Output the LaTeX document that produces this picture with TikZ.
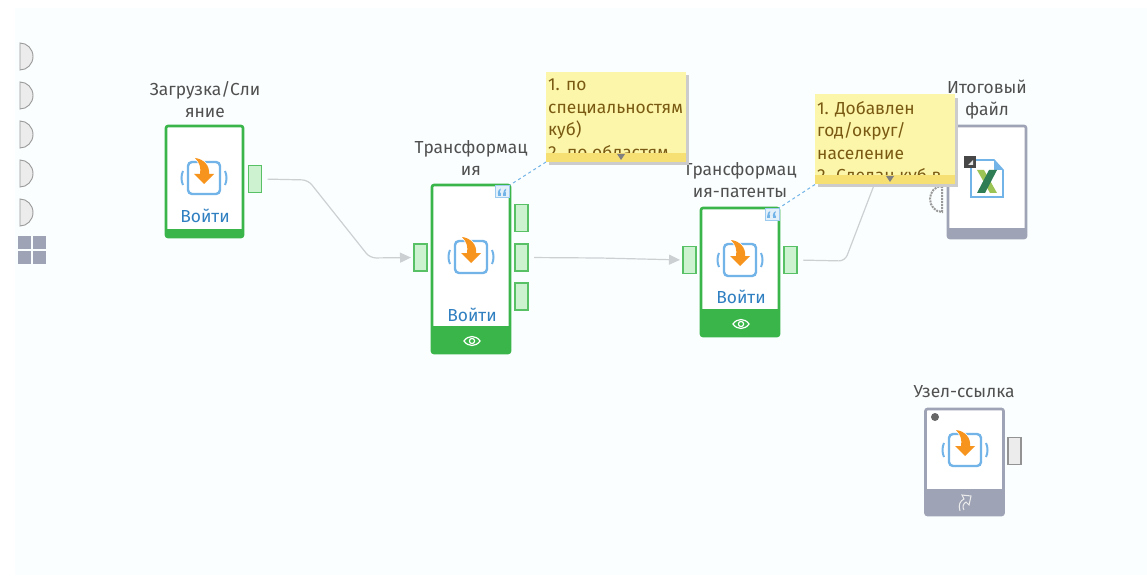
\documentclass[tikz,border=0pt]{standalone}
\usepackage{xcolor}
\usepackage{fontspec}
\setmainfont{Fira Sans}
\usepackage{tikz}
\usetikzlibrary{arrows.meta}

\definecolor{cardgreen}{HTML}{3AB54A}
\definecolor{portfill}{HTML}{CCF2CF}
\definecolor{cardgray}{HTML}{9EA3B5}
\definecolor{wiregray}{HTML}{CDD0D3}
\definecolor{iconblue}{HTML}{72B4E8}
\definecolor{iconorange}{HTML}{F7941D}
\definecolor{linkblue}{HTML}{2F7FC1}
\definecolor{labelgray}{HTML}{505050}
\definecolor{notefill}{HTML}{FCF6AA}
\definecolor{notebar}{HTML}{F6E074}
\definecolor{notetext}{HTML}{7A5A12}
\definecolor{canvasfill}{HTML}{FAFEFE}
\definecolor{xldark}{HTML}{2F7D55}
\definecolor{xllight}{HTML}{9CC455}

\tikzset{
  card/.style={draw=cardgreen, fill=white, rounded corners=2pt, line width=2.6pt, outer sep=0pt, inner sep=0pt},
  graycard/.style={card, draw=cardgray},
  port/.style={draw=cardgreen!85, fill=portfill, line width=1.2pt, minimum width=13pt, minimum height=27pt, outer sep=0pt, inner sep=0pt},
  grayport/.style={port, draw=gray!85, fill=gray!15},
  wire/.style={draw=wiregray, line width=1.2pt, rounded corners=6pt, shorten <=6pt},
  arrowwire/.style={wire, -{Triangle[length=11pt,width=10pt]}, shorten >=3pt},
  title/.style={text=labelgray, font=\fontsize{17.4}{22}\selectfont, align=center, inner sep=0pt},
  enter/.style={text=linkblue, font=\fontsize{17.4}{20}\selectfont, inner sep=0pt},
  note/.style={fill=notefill, minimum width=140pt, minimum height=90pt, outer sep=0pt, inner sep=0pt},
  notelines/.style={text=notetext, font=\fontsize{17.4}{22.5}\selectfont, align=left, inner sep=0pt, anchor=north west},
  notelink/.style={draw=iconblue, line width=1pt, dashed},
  quotebadge/.style={draw=iconblue!70, fill=iconblue!20, line width=1pt, minimum width=14pt, minimum height=12pt, inner sep=0pt},
  pics/quoteicon/.style={code={
    \foreach \qq in {-3,2.5} {
      \fill[iconblue] (\qq-1.8,1.5) rectangle (\qq+1.2,4);
      \fill[iconblue] (\qq-1.8,1.5) .. controls (\qq-1.8,-1) and (\qq-0.5,-3) .. (\qq+1.2,-3.5) -- (\qq+1.2,-2) .. controls (\qq,-1.5) and (\qq-0.2,0) .. (\qq+1.2,1.5) -- cycle;
    }
  }},
  pics/transicon/.style={code={
    \draw[iconblue, line width=2.4pt, rounded corners=4pt] (-16,-16) rectangle (16,16);
    \draw[iconblue, line width=2pt] (-21,-7) .. controls (-23,-3) and (-23,3) .. (-21,7);
    \draw[iconblue, line width=2pt] (21,-7) .. controls (23,-3) and (23,3) .. (21,7);
    \fill[iconorange, draw=white, line width=1.5pt] (-9,-20) .. controls (0,-19) and (6,-12) .. (5,-4) -- (10,-4) -- (0,6) -- (-10,-4) -- (-4,-4) .. controls (-3,-10) and (-4,-15) .. cycle;
    \fill[iconorange] (-9,-20) .. controls (0,-19) and (6,-12) .. (5,-4) -- (10,-4) -- (0,6) -- (-10,-4) -- (-4,-4) .. controls (-3,-10) and (-4,-15) .. cycle;
  }},
  pics/eyeicon/.style={code={
    \draw[white, line width=1.2pt] (-8,0) .. controls (-4,-6) and (4,-6) .. (8,0) .. controls (4,6) and (-4,6) .. cycle;
    \draw[white, line width=1.2pt] (0,0) circle[radius=2.6];
  }}
}

\begin{document}
\begin{tikzpicture}[x=1pt, y=-1pt]
    \useasboundingbox (0,0) rectangle (1147,577);
    \fill[white] (0,0) rectangle (1147,577);
    \fill[canvasfill] (15,8) rectangle (1147,575);

    \foreach \yy in {43,82,121,160,199}
      \draw[fill=gray!15, draw=gray!80, line width=0.9pt] (20,\yy) arc[start angle=-90, end angle=90, x radius=13, y radius=13.5] -- cycle;
    \foreach \xx/\yy in {18/236,33/236,18/251,33/251}
      \fill[cardgray] (\xx,\yy) rectangle ++(13,13);

    \node[card, minimum width=77pt, minimum height=111pt] (load) at (204.5,181.5) {};
    \fill[cardgreen] (load.south west) rectangle ([yshift=8pt]load.south east);
    \pic at (204,178) {transicon};
    \node[enter] (load-enter) at (205,216) {Войти};
    \node[title] (load-title) at (205,100) {Загрузка/Сли\\яние};
    \node[port] (load-out) at (255,179) {};

    \node[card, minimum width=78pt, minimum height=168pt] (trans) at (471,269) {};
    \fill[cardgreen] (trans.south west) rectangle ([yshift=27pt]trans.south east);
    \pic at (471,257) {transicon};
    \node[enter] (trans-enter) at (472,315) {Войти};
    \pic at (472,341) {eyeicon};
    \node[title] (trans-title) at (471,158) {Трансформац\\ия};
    \node[port] (trans-in) at (420.5,257.5) {};
    \node[port] (trans-a) at (521.5,218) {};
    \node[port] (trans-b) at (521.5,257.5) {};
    \node[port] (trans-c) at (521.5,296.5) {};
    \node[quotebadge] (trans-quote) at (502.5,192) {};
    \pic at (502.5,192) {quoteicon};

    \node[card, minimum width=78pt, minimum height=128pt] (patent) at (740,272) {};
    \fill[cardgreen] (patent.south west) rectangle ([yshift=27pt]patent.south east);
    \pic at (740,260) {transicon};
    \node[enter] (patent-enter) at (741,297) {Войти};
    \pic at (741,324) {eyeicon};
    \node[title] (patent-title) at (740,180) {Трансформац\\ия-патенты};
    \node[port] (patent-in) at (689.5,260) {};
    \node[port] (patent-out) at (790.5,260) {};
    \node[quotebadge] (patent-quote) at (772,214.5) {};
    \pic at (772,214.5) {quoteicon};

    \node[graycard, minimum width=78pt, minimum height=112pt] (final) at (987,182) {};
    \fill[cardgray] (final.south west) rectangle ([yshift=10pt]final.south east);
    \node[title] (final-title) at (987,100) {Итоговый\\файл};
    \draw[gray!80, line width=2pt, densely dotted] (942,186) arc[start angle=-90, end angle=-270, x radius=12, y radius=13] -- cycle;
    \coordinate (final-in) at (876,180);
    \draw[iconblue, fill=white, line width=1.6pt] (971,160) -- (994,160) -- (1003,170) -- (1003,197) -- (971,197) -- cycle;
    \fill[iconblue] (994,160) -- (1003,170) -- (994,170) -- cycle;
    \fill[xllight] (977,170) -- (984,170) -- (997,193) -- (990,193) -- cycle;
    \fill[xldark] (977,193) -- (989,170) -- (997,170) -- (985,193) -- cycle;
    \fill[gray!30!black!85] (964,156) rectangle (976,168);
    \fill[white!80!gray] (968,165) -- (973,165) -- (973,160) -- cycle;

    \node[graycard, minimum width=78pt, minimum height=106pt] (ref) at (964.5,462) {};
    \fill[cardgray] (ref.south west) rectangle ([yshift=26pt]ref.south east);
    \fill[gray!60!black!85] (935,417) circle[radius=4];
    \pic at (965,450) {transicon};
    \draw[white!85!gray, line width=1pt] (960,511) .. controls (958,505) and (960,501) .. (964,499) -- (962,495) -- (971,496) -- (969,505) -- (966,502) .. controls (963,504) and (962,507) .. (964,510);
    \node[title] (ref-title) at (964,392) {Узел-ссылка};
    \node[grayport] (ref-out) at (1014.5,451) {};

    \draw[arrowwire] (load-out.east) -- (308,180) -- (370,258) -- (trans-in.west);
    \draw[arrowwire] (trans-b.east) -- (600,258) -- (patent-in.west);
    \draw[wire] (patent-out.east) -- (845,261) -- (final-in);

    \fill[gray!40] (549,75) rectangle (689,165);
    \node[note] (note-one) at (616,117) {};
    \begin{scope}
      \clip (546,72) rectangle (683,153);
      \node[notelines] (note-one-text) at (548,79) {1. по\\специальностям\\куб)\\2. по областям};
    \end{scope}
    \fill[notebar] (note-one.south west) rectangle ([yshift=9pt]note-one.south east);
    \fill[gray] (617,154) -- (625,154) -- (621,160) -- cycle;
    \draw[notelink] (note-one.south west) -- (trans.north east);

    \fill[gray!40] (818,98) rectangle (958,187);
    \node[note] (note-two) at (885,139.5) {};
    \begin{scope}
      \clip (815,95) rectangle (952,175);
      \node[notelines] (note-two-text) at (817,101) {1. Добавлен\\год/округ/\\население\\2. Сделан куб в};
    \end{scope}
    \fill[notebar] (note-two.south west) rectangle ([yshift=9pt]note-two.south east);
    \fill[gray] (886,176) -- (894,176) -- (890,182) -- cycle;
    \draw[notelink] (note-two.south west) -- (patent.north east);
  \end{tikzpicture}
\end{document}
